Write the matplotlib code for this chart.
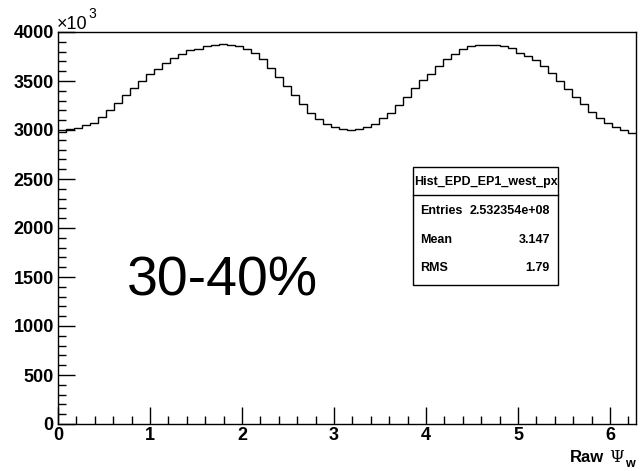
import numpy as np
import matplotlib
matplotlib.use("Agg")
import matplotlib.pyplot as plt
from matplotlib.ticker import MultipleLocator
from matplotlib.patches import Rectangle

# ---- data (bin contents in units of 10^3 entries) ----
n_bins = 72
bin_counts_k = [2983, 3006, 3023, 3047, 3074, 3132, 3200, 3279, 3354, 3432, 3500, 3569, 3626,
                3688, 3732, 3773, 3814, 3831, 3858, 3872, 3882, 3872, 3858, 3831,
                3790, 3722, 3637, 3541, 3449, 3354, 3262, 3177, 3108, 3064, 3030, 3006,
                2996, 3006, 3030, 3064, 3118, 3177, 3252, 3337, 3425, 3507, 3575, 3654,
                3722, 3773, 3824, 3858, 3869, 3869, 3869, 3858, 3834, 3790, 3756, 3715,
                3654, 3586, 3500, 3422, 3337, 3262, 3187, 3125, 3074, 3030, 2996, 2972]
x_min, x_max = 0.0, 2 * np.pi
y_ticks = [0, 500, 1000, 1500, 2000, 2500, 3000, 3500, 4000]
x_ticks = [0, 1, 2, 3, 4, 5, 6]
stats_title = "Hist_EPD_EP1_west_px"
stats_labels = ["Entries", "Mean", "RMS"]
stats_values = ["2.532354e+08", "3.147", "1.79"]
centrality = "30-40%"

W, H = 644, 471
fig = plt.figure(figsize=(W / 100, H / 100), dpi=100)
fig.patch.set_facecolor("white")

def fx(px):
    return px / W

def fy(py):
    return 1 - py / H

L, R, T, B = 58, 636, 32, 424
ax = fig.add_axes([fx(L), fy(B), fx(R) - fx(L), fy(T) - fy(B)])

edges = np.linspace(x_min, x_max, n_bins + 1)
ax.stairs(bin_counts_k, edges, color="black", lw=1.0, baseline=None)

ax.set_xlim(x_min, x_max)
ax.set_ylim(0, 4000)
ax.set_xticks(x_ticks)
ax.set_yticks(y_ticks)
ax.xaxis.set_minor_locator(MultipleLocator(0.2))
ax.yaxis.set_minor_locator(MultipleLocator(100))
ax.tick_params(which="both", direction="in", top=False, right=False, color="black")
ax.tick_params(which="major", length=12, width=1.0)
ax.tick_params(which="minor", length=6, width=1.0)
ax.tick_params(axis="y", which="major", pad=3)
ax.tick_params(axis="x", which="major", pad=2)
for lab in ax.get_xticklabels() + ax.get_yticklabels():
    lab.set_fontfamily("Liberation Sans")
    lab.set_fontweight("bold")
    lab.set_fontsize(13)
for sp in ax.spines.values():
    sp.set_linewidth(1.0)
    sp.set_color("black")

# exponent label
fig.text(fx(57), fy(29), "\u00d710", family="Liberation Sans", fontsize=13,
         ha="left", va="baseline")
fig.text(fx(88), fy(18), "3", family="Liberation Sans", fontsize=10,
         ha="left", va="baseline")

# axis title
fig.text(fx(604), fy(462), "Raw", family="Liberation Sans", fontweight="bold",
         fontsize=12, ha="right", va="baseline")
fig.text(fx(609), fy(462), "\u03a8", family="DejaVu Serif", fontsize=12,
         ha="left", va="baseline")
fig.text(fx(625), fy(467), "w", family="Liberation Sans", fontweight="bold",
         fontsize=9, ha="left", va="baseline")

# centrality label
fig.text(fx(222.5), fy(282), centrality, family="Liberation Sans",
         fontsize=40, ha="center", va="center")

# stats box
bx0, bx1, by0, by1, bsep = 413, 558, 167, 285, 195
fig.patches.append(Rectangle((fx(bx0), fy(by1)), fx(bx1) - fx(bx0), fy(by0) - fy(by1),
                             transform=fig.transFigure, facecolor="white",
                             edgecolor="black", lw=1.0, zorder=5))
fig.lines.append(plt.Line2D([fx(bx0), fx(bx1)], [fy(bsep), fy(bsep)],
                            transform=fig.transFigure, color="black", lw=1.0, zorder=6))
fig.text(fx((bx0 + bx1) / 2), fy(182), stats_title, family="Liberation Sans",
         fontweight="bold", fontsize=9, ha="center", va="center", zorder=7)
row_y = [211, 240, 268]
for lab, val, yy in zip(stats_labels, stats_values, row_y):
    fig.text(fx(420), fy(yy), lab, family="Liberation Sans", fontweight="bold",
             fontsize=9, ha="left", va="center", zorder=7)
    fig.text(fx(550), fy(yy), val, family="Liberation Sans", fontweight="bold",
             fontsize=9, ha="right", va="center", zorder=7)

fig.savefig("out.png", dpi=100)
